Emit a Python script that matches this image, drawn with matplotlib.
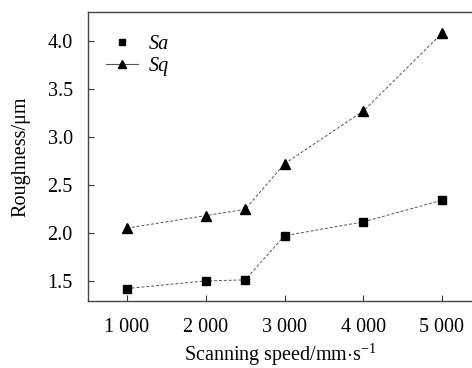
import matplotlib
matplotlib.use('Agg')
import matplotlib.pyplot as plt
from matplotlib.lines import Line2D

speed = [1000, 2000, 2500, 3000, 4000, 5000]
sa = [1.42, 1.50, 1.51, 1.97, 2.115, 2.34]
sq = [2.05, 2.18, 2.245, 2.72, 3.27, 4.08]
xticks = [1000, 2000, 3000, 4000, 5000]
xlabels = ['1 000', '2 000', '3 000', '4 000', '5 000']
yticks = [1.5, 2.0, 2.5, 3.0, 3.5, 4.0]

plt.rcParams['font.family'] = ['Liberation Serif', 'DejaVu Serif']
plt.rcParams['mathtext.fontset'] = 'custom'
plt.rcParams['mathtext.rm'] = 'Liberation Serif'
plt.rcParams['mathtext.it'] = 'Liberation Serif:italic'

fig = plt.figure(figsize=(4.72, 3.68), dpi=100)
ax = fig.add_axes([0.1864, 0.182, 0.8136, 0.785])

ax.plot(speed, sa, ls=(0, (3, 2)), lw=0.7, color='#555555', marker='s', ms=6,
        mfc='black', mec='black')
ax.plot(speed, sq, ls=(0, (3, 2)), lw=0.7, color='#555555', marker='^', ms=7,
        mfc='black', mec='black')

ax.set_xlim(504, 5381)
ax.set_ylim(1.29, 4.30)
ax.set_xticks(xticks)
ax.set_xticklabels(xlabels)
ax.set_yticks(yticks)
ax.set_yticklabels(['%.1f' % v for v in yticks])
ax.tick_params(direction='in', length=4, width=0.8, color='#333333',
               labelsize=14.5, pad=12)
ax.tick_params(axis='y', pad=11)

for s in ['left', 'top', 'bottom']:
    ax.spines[s].set_color('#444444')
    ax.spines[s].set_linewidth(1.0)
ax.spines['right'].set_visible(False)

ax.set_xlabel('Scanning speed/mm$\\cdot$s$^{-1}$', fontsize=14.5, labelpad=4)
ax.set_ylabel('Roughness/μm', fontsize=14.5, labelpad=12)

handles = [
    Line2D([], [], ls='none', marker='s', ms=5, mfc='black', mec='black'),
    Line2D([], [], ls='-', lw=0.8, color='#555555', marker='^', ms=6,
           mfc='black', mec='black'),
]
leg = ax.legend(handles, ['Sa', 'Sq'], loc='upper left', frameon=False,
                prop={'style': 'italic', 'size': 14.5}, handlelength=1.6,
                handletextpad=0.5, labelspacing=0.15,
                bbox_to_anchor=(0.0, 0.985))

fig.savefig('out.png', dpi=100)
